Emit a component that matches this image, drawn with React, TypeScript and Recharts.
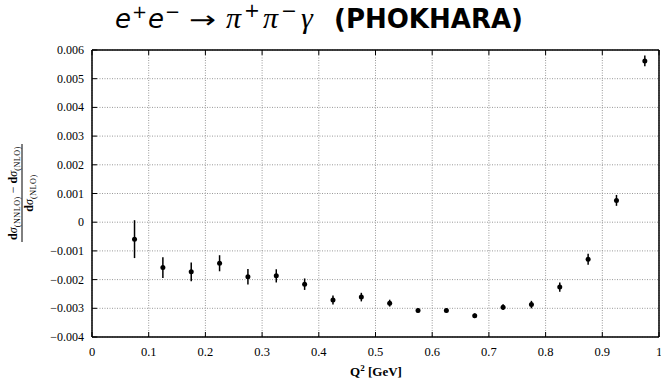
import React from 'react';
import { ComposedChart, Scatter, ErrorBar, XAxis, YAxis, CartesianGrid } from 'recharts';

// Q^2 bin centres [GeV]
const q2Bins = [
  0.075, 0.125, 0.175, 0.225, 0.275, 0.325, 0.375, 0.425, 0.475, 0.525,
  0.575, 0.625, 0.675, 0.725, 0.775, 0.825, 0.875, 0.925, 0.975,
];

// relative difference (dσ_NNLO − dσ_NLO) / dσ_NLO per bin
const relDiff = [
  -0.00059, -0.00158, -0.00173, -0.00143, -0.0019, -0.00187, -0.00216, -0.00271, -0.00261, -0.00282,
  -0.00308, -0.00308, -0.00326, -0.00296, -0.00287, -0.00226, -0.00129, 0.00076, 0.00562,
];

// statistical uncertainty per bin
const relErr = [
  0.00066, 0.00036, 0.00033, 0.00028, 0.00027, 0.00023, 0.0002, 0.00016, 0.00015, 0.00012,
  0.00007, 0.00007, 0.00008, 0.0001, 0.00013, 0.00016, 0.00019, 0.00019, 0.00019,
];

const xTicks = [0, 0.1, 0.2, 0.3, 0.4, 0.5, 0.6, 0.7, 0.8, 0.9, 1];
const yTicks = [-0.004, -0.003, -0.002, -0.001, 0, 0.001, 0.002, 0.003, 0.004, 0.005, 0.006];

const points = q2Bins.map((q2, i) => ({ q2, diff: relDiff[i], err: relErr[i] }));

const serif = "'Liberation Serif', 'DejaVu Serif', serif";
const sans = "'DejaVu Sans', 'Liberation Sans', sans-serif";
const serifStyle = { fontFamily: serif };

const fmtY = (v: number) => (v === 0 ? '0' : (v < 0 ? '\u2212' : '') + Math.abs(v).toFixed(3));
const fmtX = (v: number) => (v === 0 ? '0' : v === 1 ? '1' : v.toFixed(1));

const TICK_MARGIN = 8;
const TICK_LEN = 5;

const LeftTick = (props: any) => {
  const { x, y, payload } = props;
  const ax = x + TICK_MARGIN;
  return (
    <g>
      <line x1={ax} x2={ax + TICK_LEN} y1={y} y2={y} stroke="#000" strokeWidth={1} />
      <text x={x} y={y} dy={4} textAnchor="end" style={{ ...serifStyle, fontSize: 12 }} fill="#000">
        {fmtY(payload.value)}
      </text>
    </g>
  );
};

const RightTick = (props: any) => {
  const { x, y } = props;
  return <line x1={x - TICK_LEN} x2={x} y1={y} y2={y} stroke="#000" strokeWidth={1} />;
};

const BottomTick = (props: any) => {
  const { x, y, payload } = props;
  return (
    <g>
      <line x1={x} x2={x} y1={y - TICK_LEN} y2={y} stroke="#000" strokeWidth={1} />
      <text x={x} y={y} dy={19} textAnchor="middle" style={{ ...serifStyle, fontSize: 12.5 }} fill="#000">
        {fmtX(payload.value)}
      </text>
    </g>
  );
};

const TopTick = (props: any) => {
  const { x, y } = props;
  return <line x1={x} x2={x} y1={y} y2={y + TICK_LEN} stroke="#000" strokeWidth={1} />;
};

const Dot = (p: any) => <circle cx={p.cx} cy={p.cy} r={2.5} fill="#000" />;

export default function App() {
  return (
    <div style={{ position: 'absolute', left: 0, top: 0, width: 661, height: 381, background: '#fff' }}>
      <ComposedChart
        width={661}
        height={381}
        data={points}
        margin={{ top: 49, right: 1, bottom: 0, left: 0 }}
      >
        <CartesianGrid stroke="#999" strokeDasharray="1 1.5" strokeWidth={1} />
        <XAxis
          dataKey="q2"
          type="number"
          domain={[0, 1]}
          ticks={xTicks}
          interval={0}
          height={44}
          tickSize={0}
          tickMargin={0}
          tickLine={false}
          axisLine={{ stroke: '#000', strokeWidth: 1.5 }}
          tick={<BottomTick />}
        />
        <XAxis
          xAxisId="t"
          orientation="top"
          dataKey="q2"
          type="number"
          domain={[0, 1]}
          ticks={xTicks}
          interval={0}
          height={1}
          tickSize={0}
          tickMargin={0}
          tickLine={false}
          axisLine={{ stroke: '#000', strokeWidth: 1.5 }}
          tick={<TopTick />}
        />
        <YAxis
          type="number"
          domain={[-0.004, 0.006]}
          ticks={yTicks}
          interval={0}
          width={92}
          tickSize={0}
          tickMargin={TICK_MARGIN}
          tickLine={false}
          axisLine={{ stroke: '#000', strokeWidth: 1.5 }}
          tick={<LeftTick />}
        />
        <YAxis
          yAxisId="r"
          orientation="right"
          type="number"
          domain={[-0.004, 0.006]}
          ticks={yTicks}
          interval={0}
          width={1}
          tickSize={0}
          tickMargin={0}
          tickLine={false}
          axisLine={{ stroke: '#000', strokeWidth: 1.5 }}
          tick={<RightTick />}
        />
        <Scatter dataKey="diff" fill="#000" shape={<Dot />} isAnimationActive={false}>
          <ErrorBar dataKey="err" direction="y" width={0} stroke="#000" strokeWidth={1.5} />
        </Scatter>
      </ComposedChart>

      <svg
        width={661}
        height={381}
        style={{ position: 'absolute', left: 0, top: 0, pointerEvents: 'none' }}
      >
        {/* title: process e+e- -> pi+pi-gamma */}
        <g fill="#000">
          <text x={115} y={28} style={{ fontFamily: sans, fontSize: 26 }}>
            <tspan fontStyle="italic">e</tspan>
            <tspan style={{ fontSize: 18 }} dy={-10} dx={1}>+</tspan>
            <tspan fontStyle="italic" dy={10} dx={1}>e</tspan>
            <tspan style={{ fontSize: 18 }} dy={-10} dx={1}>{'\u2212'}</tspan>
          </text>
          <text x={189} y={28} textLength={27} lengthAdjust="spacingAndGlyphs" style={{ fontFamily: sans, fontSize: 24 }}>{'\u2192'}</text>
          <text x={226} y={28} style={{ fontFamily: serif, fontSize: 30 }}>
            <tspan fontStyle="italic">{'\u03c0'}</tspan>
            <tspan style={{ fontSize: 19, fontFamily: sans }} dy={-11} dx={3}>+</tspan>
            <tspan fontStyle="italic" dy={11} dx={3}>{'\u03c0'}</tspan>
            <tspan style={{ fontSize: 19, fontFamily: sans }} dy={-11} dx={3}>{'\u2212'}</tspan>
            <tspan fontStyle="italic" dy={11} dx={4}>{'\u03b3'}</tspan>
          </text>
          <text x={334} y={28} textLength={189} lengthAdjust="spacingAndGlyphs" style={{ fontFamily: sans, fontSize: 26 }} fontWeight="bold">
            (PHOKHARA)
          </text>
        </g>

        {/* y axis label: fraction */}
        <g transform="translate(0,193) rotate(-90)" style={{ fontFamily: serif }} fill="#000">
          <text x={0} y={17} textAnchor="middle" style={{ fontSize: 12, fontFamily: serif }}>
            <tspan fontWeight="bold">d</tspan>
            <tspan fontStyle="italic">{'\u03c3'}</tspan>
            <tspan style={{ fontSize: 8 }} dy={3} letterSpacing={0.6}>(NNLO)</tspan>
            <tspan dy={-3}>{' \u2212 '}</tspan>
            <tspan fontWeight="bold">d</tspan>
            <tspan fontStyle="italic">{'\u03c3'}</tspan>
            <tspan style={{ fontSize: 8 }} dy={3} letterSpacing={0.6}>(NLO)</tspan>
          </text>
          <line x1={-49} x2={49} y1={22} y2={22} stroke="#000" strokeWidth={1} />
          <text x={0} y={33} textAnchor="middle" style={{ fontSize: 12, fontFamily: serif }}>
            <tspan fontWeight="bold">d</tspan>
            <tspan fontStyle="italic">{'\u03c3'}</tspan>
            <tspan style={{ fontSize: 8 }} dy={3} letterSpacing={0.6}>(NLO)</tspan>
          </text>
        </g>

        {/* x axis label */}
        <text x={376} y={376} textAnchor="middle" style={{ fontFamily: serif, fontSize: 13 }} fontWeight="bold" fill="#000">
          Q<tspan style={{ fontSize: 9 }} dy={-5}>2</tspan>
          <tspan dy={5}>{' [GeV]'}</tspan>
        </text>
      </svg>
    </div>
  );
}
